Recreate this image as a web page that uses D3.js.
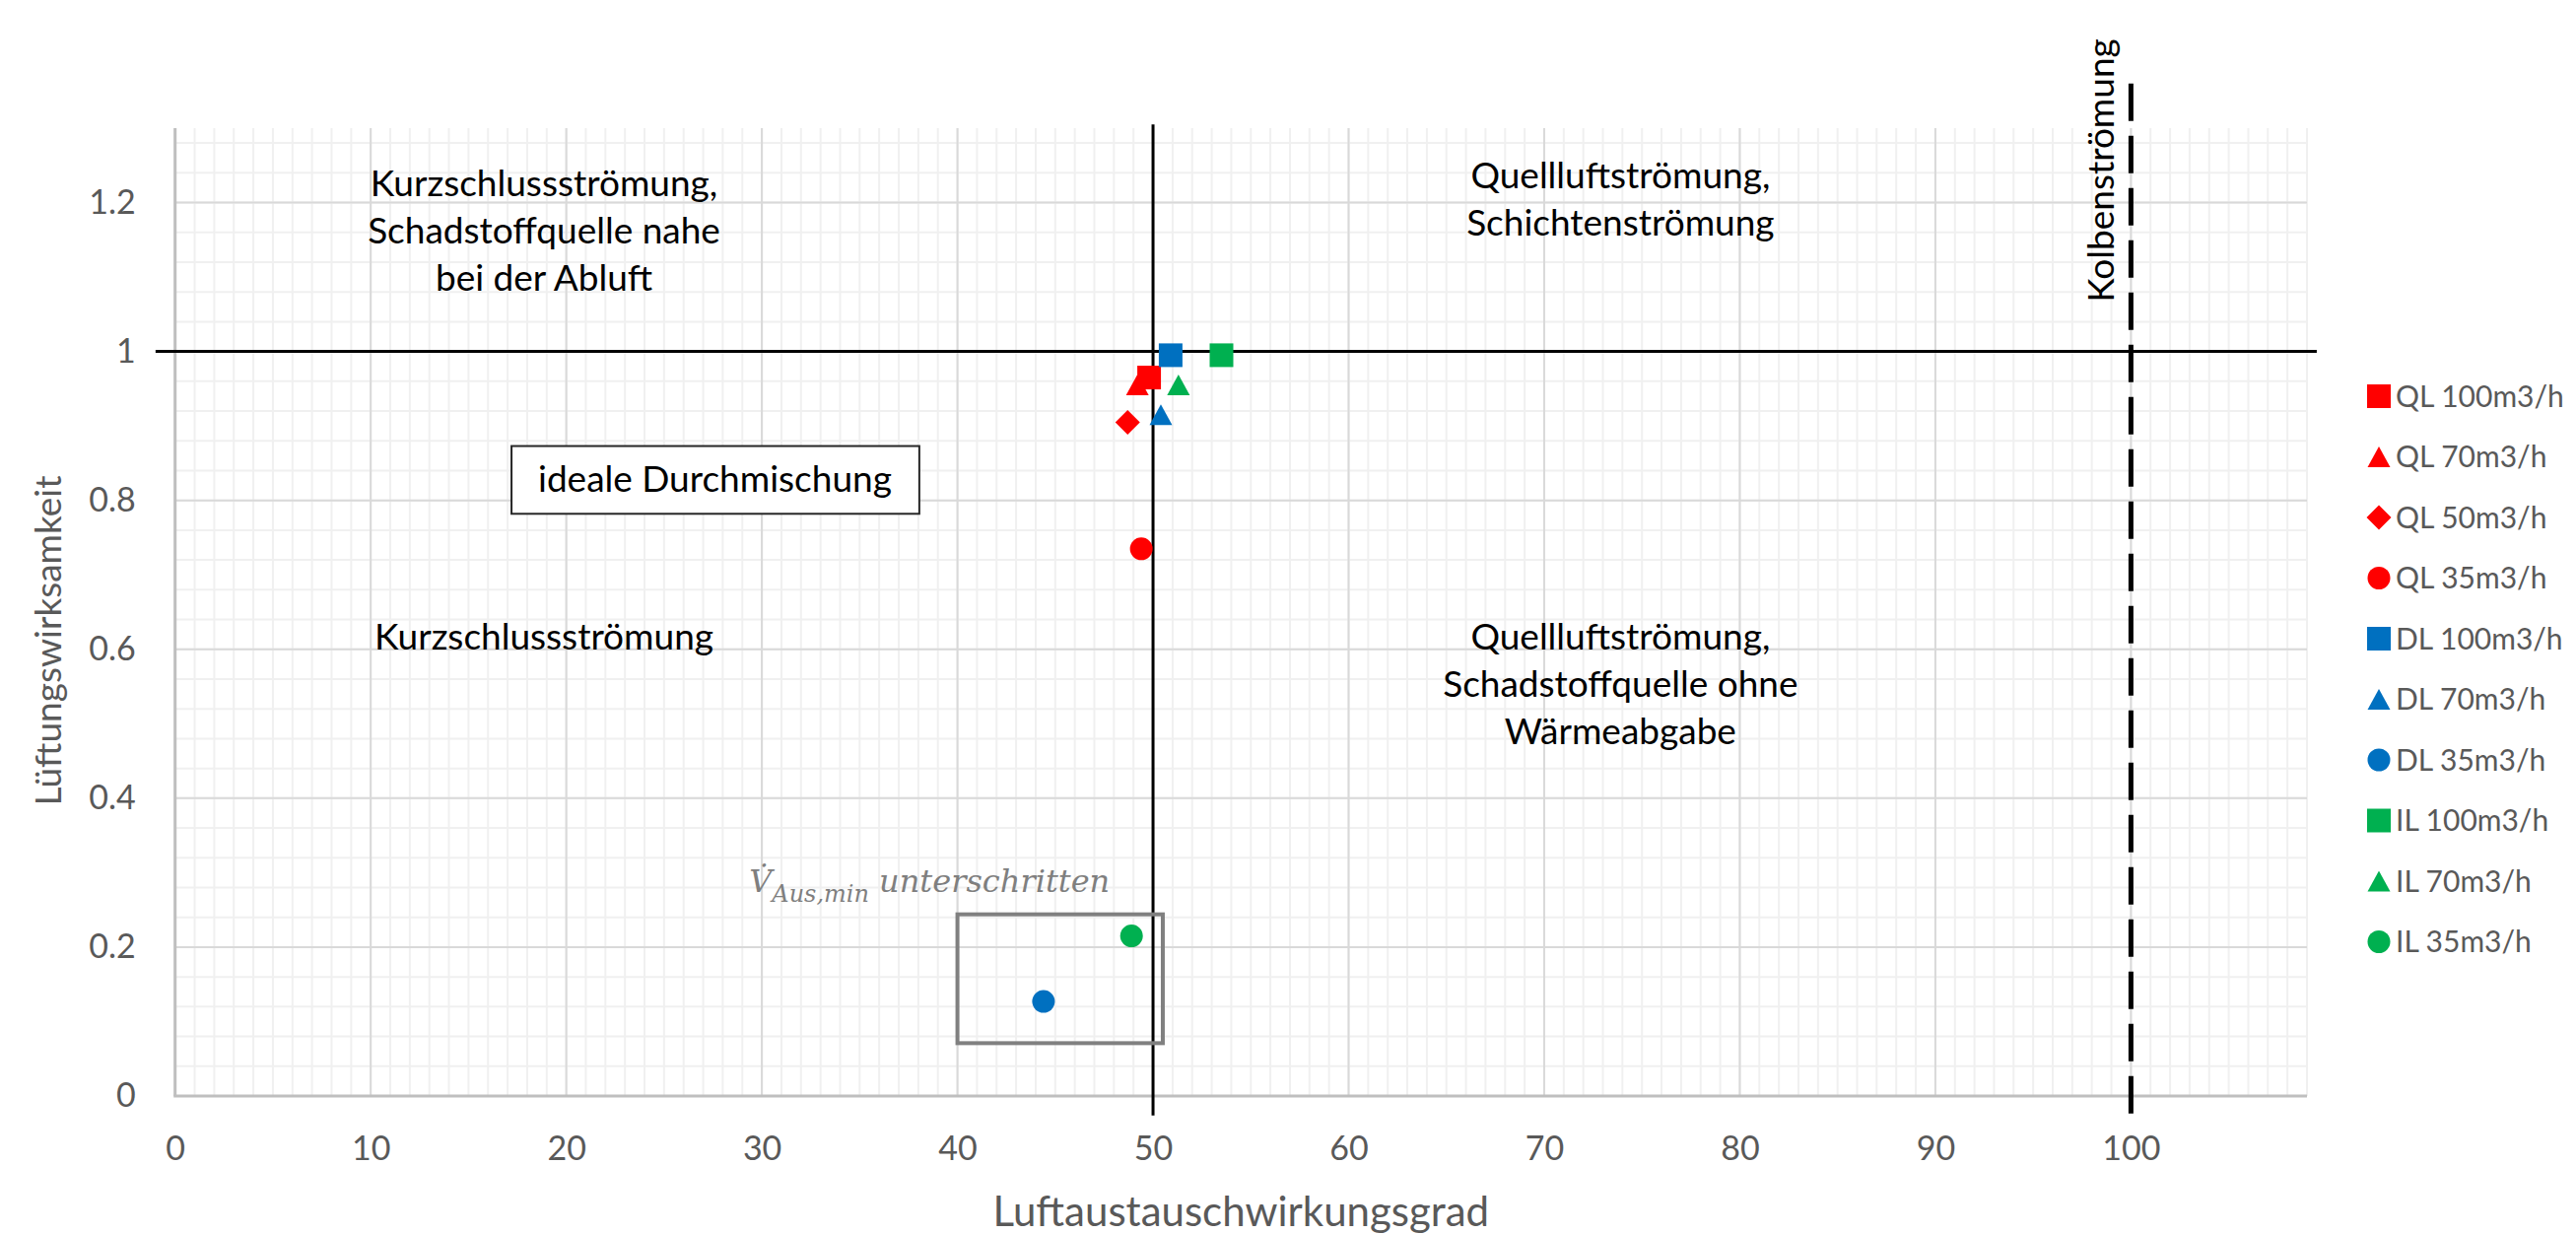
<!DOCTYPE html>
<html>
<head>
<meta charset="utf-8">
<script src="https://cdn.jsdelivr.net/npm/d3@7"></script>
<style>
  html, body { margin: 0; padding: 0; background: #fff; }
  svg { display: block; }
</style>
</head>
<body>
<svg id="chart" width="2614" height="1252"></svg>
<script>
// ---------------- DATA ----------------
const seriesNames = ["QL 100m3/h", "QL 70m3/h", "QL 50m3/h", "QL 35m3/h",
                     "DL 100m3/h", "DL 70m3/h", "DL 35m3/h",
                     "IL 100m3/h", "IL 70m3/h", "IL 35m3/h"];
const xValues = [49.8, 49.2, 48.7, 49.4, 50.9, 50.4, 44.4, 53.5, 51.3, 48.9];
const yValues = [0.965, 0.955, 0.905, 0.735, 0.995, 0.915, 0.127, 0.995, 0.955, 0.215];
const seriesColors = ["#ff0000", "#ff0000", "#ff0000", "#ff0000",
                      "#0070c0", "#0070c0", "#0070c0",
                      "#00b050", "#00b050", "#00b050"];
const seriesShapes = ["square", "triangle", "diamond", "circle",
                      "square", "triangle", "circle",
                      "square", "triangle", "circle"];
const xTicks = [0, 10, 20, 30, 40, 50, 60, 70, 80, 90, 100];
const yTicks = [0, 0.2, 0.4, 0.6, 0.8, 1, 1.2];
const yTickLabels = ["0", "0.2", "0.4", "0.6", "0.8", "1", "1.2"];
const xDomain = [0, 109];
const yDomain = [0, 1.3];
const xTitle = "Luftaustauschwirkungsgrad";
const yTitle = "Lüftungswirksamkeit";

// ---------------- LAYOUT ----------------
const svg = d3.select("#chart");
const W = 2614, H = 1252;
const plot = { left: 177.7, right: 2341, top: 130, bottom: 1112 };
const x = d3.scaleLinear().domain(xDomain).range([plot.left, plot.right]);
const y = d3.scaleLinear().domain(yDomain).range([plot.bottom, plot.top]);

const textFont = "Lato, 'Open Sans', sans-serif";
const axisGray = "#595959";

svg.append("rect").attr("width", W).attr("height", H).attr("fill", "#fff");

// ---------------- GRIDLINES ----------------
const grid = svg.append("g");
const xMinor = d3.range(xDomain[0], xDomain[1] + 0.001, 1);
const yMinor = d3.range(0, yDomain[1] + 1e-9, 0.04);
grid.selectAll("line.xminor").data(xMinor).join("line")
  .attr("x1", d => x(d)).attr("x2", d => x(d))
  .attr("y1", y(yDomain[1])).attr("y2", y(0))
  .attr("stroke", "#f0f0f0").attr("stroke-width", 2);
grid.selectAll("line.yminor").data(yMinor).join("line")
  .attr("y1", d => y(d)).attr("y2", d => y(d))
  .attr("x1", x(xDomain[0])).attr("x2", x(xDomain[1]))
  .attr("stroke", "#f0f0f0").attr("stroke-width", 2);
grid.selectAll("line.xmajor").data(xTicks).join("line")
  .attr("x1", d => x(d)).attr("x2", d => x(d))
  .attr("y1", y(yDomain[1])).attr("y2", y(0))
  .attr("stroke", "#d9d9d9").attr("stroke-width", 2);
grid.selectAll("line.ymajor").data(yTicks).join("line")
  .attr("y1", d => y(d)).attr("y2", d => y(d))
  .attr("x1", x(xDomain[0])).attr("x2", x(xDomain[1]))
  .attr("stroke", "#d9d9d9").attr("stroke-width", 2);

// axis lines
svg.append("line").attr("x1", x(0)).attr("x2", x(0)).attr("y1", y(yDomain[1])).attr("y2", y(0))
  .attr("stroke", "#bfbfbf").attr("stroke-width", 3);
svg.append("line").attr("x1", x(0) - 1.5).attr("x2", x(xDomain[1])).attr("y1", y(0)).attr("y2", y(0))
  .attr("stroke", "#bfbfbf").attr("stroke-width", 3);

// ---------------- AXES (labels) ----------------
const xAxis = d3.axisBottom(x).tickValues(xTicks).tickSize(0).tickPadding(41).tickFormat(d3.format("d"));
const yAxis = d3.axisLeft(y).tickValues(yTicks).tickSize(0).tickPadding(40)
  .tickFormat((d, i) => yTickLabels[i]);

const gx = svg.append("g").attr("transform", `translate(0,${y(0)})`).call(xAxis);
const gy = svg.append("g").attr("transform", `translate(${x(0)},0)`).call(yAxis);
[gx, gy].forEach(g => {
  g.select(".domain").remove();
  g.selectAll("text").attr("font-family", textFont).attr("font-size", 34).attr("fill", axisGray);
});

// axis titles
svg.append("text").attr("x", (plot.left + plot.right) / 2).attr("y", 1244)
  .attr("text-anchor", "middle").attr("font-family", textFont).attr("font-size", 42)
  .attr("fill", axisGray).text(xTitle);
svg.append("text").attr("transform", "translate(62,650) rotate(-90)")
  .attr("text-anchor", "middle").attr("font-family", textFont).attr("font-size", 37)
  .attr("fill", axisGray).text(yTitle);

// ---------------- REFERENCE LINES ----------------
svg.append("line").attr("x1", x(-1)).attr("x2", x(109.5)).attr("y1", y(1)).attr("y2", y(1))
  .attr("stroke", "#000").attr("stroke-width", 3);
svg.append("line").attr("x1", x(50)).attr("x2", x(50)).attr("y1", y(1.305)).attr("y2", y(-0.026))
  .attr("stroke", "#000").attr("stroke-width", 3);
svg.append("line").attr("x1", x(100)).attr("x2", x(100)).attr("y1", y(1.36)).attr("y2", y(-0.032))
  .attr("stroke", "#000").attr("stroke-width", 5).attr("stroke-dasharray", "38 15");

// ---------------- ANNOTATIONS ----------------
function multiLine(cx, baseY, lines, spacing) {
  const t = svg.append("text").attr("text-anchor", "middle")
    .attr("font-family", textFont).attr("font-size", 37).attr("fill", "#000");
  lines.forEach((l, i) => {
    t.append("tspan").attr("x", x(cx)).attr("y", y(baseY) + i * spacing).text(l);
  });
}
multiLine(18.86, 1.2086, ["Kurzschlussströmung,", "Schadstoffquelle nahe", "bei der Abluft"], 48);
multiLine(73.9, 1.2196, ["Quellluftströmung,", "Schichtenströmung"], 48);
multiLine(18.86, 0.5996, ["Kurzschlussströmung"], 48);
multiLine(73.9, 0.5996, ["Quellluftströmung,", "Schadstoffquelle ohne", "Wärmeabgabe"], 48);

// ideale Durchmischung box
svg.append("rect").attr("x", x(17.2)).attr("y", y(0.873))
  .attr("width", x(38.05) - x(17.2)).attr("height", y(0.782) - y(0.873))
  .attr("fill", "#fff").attr("stroke", "#262626").attr("stroke-width", 2);
svg.append("text").attr("x", x(27.6)).attr("y", y(0.811)).attr("text-anchor", "middle")
  .attr("font-family", textFont).attr("font-size", 37).attr("fill", "#000").text("ideale Durchmischung");

// Kolbenströmung (rotated)
svg.append("text").attr("transform", `translate(${x(100) - 17},173) rotate(-90)`)
  .attr("text-anchor", "middle").attr("font-family", textFont).attr("font-size", 37)
  .attr("fill", "#000").text("Kolbenströmung");

// gray box
svg.append("rect").attr("x", x(40)).attr("y", y(0.244))
  .attr("width", x(50.5) - x(40)).attr("height", y(0.071) - y(0.244))
  .attr("fill", "none").attr("stroke", "#808080").attr("stroke-width", 4);

// V̇_Aus,min unterschritten
const vt = svg.append("text").attr("x", x(29.35)).attr("y", 905)
  .attr("font-family", "'DejaVu Serif', serif").attr("font-style", "italic")
  .attr("fill", "#7f7f7f").attr("font-size", 32);
vt.append("tspan").text("V\u0307");
vt.append("tspan").attr("font-size", 24).attr("dy", 10).text("Aus,min");
vt.append("tspan").attr("dy", -10).text(" unterschritten");

// ---------------- MARKERS ----------------
const symbolFor = {
  square: d3.symbolSquare, triangle: d3.symbolTriangle,
  diamond: d3.symbolDiamond, circle: d3.symbolCircle
};
const sizeFor = { square: 24 * 24, triangle: 230, diamond: 300, circle: Math.PI * 11.5 * 11.5 };
function markerPath(shape) {
  if (shape === "diamond") {
    const r = 12.5;
    return `M0,${-r}L${r},0L0,${r}L${-r},0Z`;
  }
  if (shape === "triangle") {
    const w = 23, h = 21;
    return `M0,${-h / 2}L${w / 2},${h / 2}L${-w / 2},${h / 2}Z`;
  }
  return d3.symbol(symbolFor[shape], sizeFor[shape])();
}

const pts = seriesNames.map((n, i) => ({ name: n, x: xValues[i], y: yValues[i], c: seriesColors[i], s: seriesShapes[i] }));
svg.append("g").selectAll("path").data(pts).join("path")
  .attr("transform", d => `translate(${x(d.x)},${y(d.y)})`)
  .attr("d", d => markerPath(d.s))
  .attr("fill", d => d.c);

// ---------------- LEGEND ----------------
const leg = svg.append("g").attr("transform", "translate(2414,402)");
const li = leg.selectAll("g").data(pts).join("g")
  .attr("transform", (d, i) => `translate(0,${i * 61.5})`);
li.append("path").attr("d", d => markerPath(d.s)).attr("fill", d => d.c);
li.append("text").attr("x", 17).attr("dy", "0.36em")
  .attr("font-family", textFont).attr("font-size", 30).attr("fill", axisGray)
  .text(d => d.name);
</script>
</body>
</html>
